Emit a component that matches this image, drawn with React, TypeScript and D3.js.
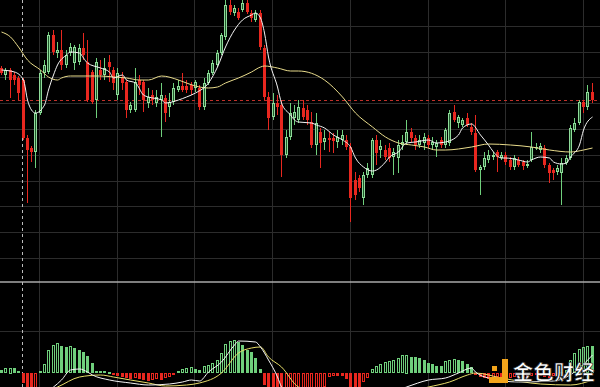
import React from 'react';
import * as d3 from 'd3';

const W = 600;
const H = 387;
const MAIN_BOTTOM = 282;

// open, high, low, close for each bar
const candles: [number, number, number, number][] = [
  [232, 234, 225, 227], [225, 232, 220, 230], [230, 232, 202, 220], [225, 228, 215, 220],
  [222, 224, 200, 207], [220, 222, 160, 162], [162, 165, 97, 150], [152, 154, 138, 148],
  [148, 190, 132, 187], [187, 230, 185, 227], [227, 240, 222, 235], [228, 268, 226, 265],
  [265, 270, 245, 248], [247, 258, 242, 250], [250, 270, 230, 235], [235, 250, 232, 245],
  [247, 257, 244, 253], [237, 255, 230, 253], [238, 256, 235, 252], [252, 267, 240, 245],
  [238, 260, 198, 200], [228, 230, 196, 198], [200, 242, 182, 238], [230, 240, 220, 225],
  [225, 242, 220, 232], [238, 245, 218, 233], [230, 233, 210, 217], [205, 232, 200, 227],
  [223, 228, 210, 217], [218, 220, 182, 190], [190, 198, 187, 195], [190, 232, 188, 218],
  [220, 225, 205, 215], [218, 220, 188, 200], [197, 212, 192, 203], [205, 210, 195, 200],
  [197, 210, 193, 203], [200, 217, 163, 205], [202, 205, 178, 187], [193, 207, 183, 198],
  [198, 217, 195, 212], [210, 220, 208, 214], [214, 227, 208, 210], [214, 220, 207, 210],
  [215, 218, 205, 210], [212, 220, 208, 218], [212, 215, 190, 193], [193, 222, 190, 217],
  [217, 230, 215, 227], [227, 240, 225, 237], [235, 250, 233, 247], [247, 267, 245, 265],
  [263, 300, 260, 295], [295, 300, 285, 288], [287, 295, 284, 292], [288, 292, 280, 282],
  [290, 300, 288, 297], [297, 300, 286, 288], [287, 290, 278, 282], [280, 290, 278, 287],
  [287, 290, 250, 253], [252, 255, 200, 203], [203, 208, 170, 182], [183, 207, 180, 197],
  [197, 205, 185, 193], [195, 200, 123, 145], [145, 170, 142, 163], [163, 197, 160, 187],
  [182, 195, 175, 188], [180, 200, 177, 193], [192, 200, 180, 183], [190, 195, 175, 180],
  [178, 188, 152, 155], [155, 187, 145, 177], [168, 172, 132, 157], [158, 170, 150, 162],
  [162, 168, 148, 160], [162, 167, 147, 159], [158, 170, 152, 163], [160, 170, 155, 165],
  [160, 165, 150, 153], [153, 157, 78, 102], [120, 128, 100, 105], [122, 125, 108, 112],
  [102, 128, 95, 125], [125, 137, 122, 132], [125, 162, 122, 160], [160, 165, 135, 147],
  [150, 160, 142, 154], [150, 155, 140, 143], [152, 157, 138, 142], [143, 152, 125, 148],
  [142, 160, 127, 155], [155, 165, 150, 158], [158, 180, 155, 168], [168, 172, 158, 162],
  [162, 165, 150, 155], [155, 165, 152, 160], [157, 167, 150, 163], [162, 165, 152, 155],
  [155, 163, 150, 158], [153, 160, 143, 157], [160, 163, 152, 155], [155, 172, 152, 170],
  [157, 190, 154, 187], [188, 195, 178, 180], [177, 185, 172, 183], [175, 182, 173, 180],
  [182, 187, 173, 175], [173, 177, 165, 168], [167, 185, 128, 130], [130, 135, 105, 133],
  [133, 148, 130, 142], [140, 150, 137, 145], [143, 148, 140, 145], [148, 150, 128, 143],
  [142, 148, 140, 145], [145, 148, 135, 138], [140, 143, 130, 133], [133, 145, 130, 142],
  [140, 143, 133, 135], [138, 140, 130, 134], [134, 140, 132, 136], [140, 168, 138, 153],
  [152, 157, 150, 153], [150, 157, 147, 154], [152, 155, 132, 135], [135, 137, 117, 127],
  [130, 132, 120, 127], [128, 135, 125, 132], [127, 142, 95, 137], [137, 145, 135, 142],
  [142, 175, 140, 172], [170, 182, 168, 177], [177, 200, 175, 198], [198, 200, 187, 193],
  [193, 215, 190, 208], [208, 217, 197, 200],
];

// MACD histogram, one per bar
const macdHist: number[] = [
  3, 5, 5.5, 5, 2, -10, -18, -20, -16, 2, 9, 23, 28, 30, 27, 26, 27, 25, 23, 21,
  17, 10, 2, 2.3, 2, 1.5, -2, -3, -4, -5, -6, -5, -6, -7, -8, -7, -6, -7, -5, -4,
  -2, 2, 4, 5, 6, 4, 3, 7, 8, 10, 13, 20, 29, 32, 33, 31, 28, 23, 21, 15,
  4, -12, -20, -25, -28, -30, -29, -27, -25, -23, -21, -19, -17, -16, -15, -14, -4, -3, -3, -3,
  -6, -14, -17, -19, -9, -5, 4, 6.7, 9, 10.7, 11.7, 13.3, 15, 18.3, 18.5, 16, 15.7, 15, 12.7, 10,
  9, 7.3, 6.7, 11.7, 13.3, 14, 13.3, 11.7, 9, 6, -2, -4, -5, -6, -5, -4, -5, -6, -5, -4,
  -5, -6, -5, -3, -2, -3, -4, -5, -3, -1, 1, 3, 13, 20, 24, 26, 27, 27,
];

// moving averages read at [bar, price]
const maFast: [number, number][] = [
  [0, 230], [3, 228], [5, 220], [6, 200], [7, 190], [8, 187], [10, 195], [11, 210], [12, 225],
  [13, 235], [15, 245], [16, 248], [18, 247], [19, 242], [20, 237], [23, 232], [25, 228],
  [26, 222], [28, 225], [29, 220], [31, 217], [33, 205], [34, 203], [37, 200], [38, 197],
  [41, 200], [43, 203], [45, 207], [48, 217], [50, 233], [52, 253], [54, 270], [56, 280],
  [58, 285], [59, 287], [60, 282], [61, 267], [62, 243], [64, 213], [65, 197], [67, 185],
  [68, 180], [69, 178], [72, 177], [73, 175], [75, 172], [77, 165], [79, 160], [81, 153],
  [82, 142], [84, 133], [86, 129], [87, 130], [89, 138], [90, 143], [92, 148], [94, 157],
  [96, 158], [99, 160], [101, 157], [103, 158], [106, 165], [107, 172], [109, 176], [111, 165],
  [113, 155], [114, 148], [116, 142], [117, 142], [120, 140], [122, 138], [123, 140], [125, 143],
  [127, 142], [128, 138], [130, 136], [131, 137], [132, 143], [134, 155], [135, 170], [137, 183],
];

const maSlow: [number, number][] = [
  [0, 268], [2, 263], [4, 253], [6, 240], [9, 230], [11, 223], [13, 220], [14, 222], [16, 224],
  [20, 224], [23, 224], [26, 223], [29, 222], [32, 220], [34, 220], [37, 224], [41, 220],
  [43, 217], [45, 214], [48, 212], [50, 213], [52, 217], [55, 222], [58, 228], [60, 233],
  [61, 234], [64, 232], [67, 229], [69, 229], [75, 220], [79, 203], [82, 187], [86, 173],
  [89, 163], [92, 157], [95, 155], [98, 153], [101, 150], [103, 150], [109, 153], [113, 156],
  [118, 155], [123, 153], [127, 150], [132, 148], [135, 150], [137, 152],
];

const dif: [number, number][] = [
  [0, -25], [10, -20], [12, -14], [14, -7], [16, 3], [18, 4], [20, 1], [21, -2], [25, -7],
  [30, -10], [34, -12], [39, -11], [42, -9], [44, -7], [46, -8], [48, 1], [51, 11], [54, 28],
  [55, 32], [59, 31], [60, 26], [62, 13], [64, -4], [65, -14], [69, -30], [81, -35], [94, -14],
  [99, -7], [103, -5], [106, 0], [109, 5], [110, 1], [113, -5], [120, -9], [128, -8], [133, 1],
  [137, 18],
];

const dea: [number, number][] = [
  [0, -30], [13, -14], [18, -4], [23, -2], [26, -4], [30, -7], [34, -10], [38, -13], [43, -12],
  [46, -10], [51, 0], [55, 20], [58, 25], [60, 26], [62, 16], [65, 6], [69, -14], [81, -28],
  [99, -14], [104, -9], [108, -2], [110, 0], [116, -5], [125, -11], [132, -12], [137, -7],
];

const RED = '#e8271f';
const GREEN = '#6fcf7c';

export default function App() {
  const x = d3.scaleBand<number>().domain(d3.range(139)).range([0, 598]).paddingInner(0.3);
  const left = (i: number) => Math.round(x(i) as number);
  const mid = (i: number) => left(i) + 1.5;

  const yP = d3.scaleLinear().domain([18, 300]).range([MAIN_BOTTOM, 0]);
  const yM = d3.scaleLinear().domain([-14, 91]).range([H, MAIN_BOTTOM]);

  const lineP = d3.line<[number, number]>().x((d) => mid(d[0])).y((d) => yP(d[1])).curve(d3.curveMonotoneX);
  const lineM = d3.line<[number, number]>().x((d) => mid(d[0])).y((d) => yM(d[1])).curve(d3.curveMonotoneX);

  const lastClose = candles[candles.length - 1][3];
  const vGrid = d3.range(8).map((k) => Math.round(39 + k * 77.7) + 0.5);
  const hGrid = d3.range(1, 11).map((k) => Math.round(k * 25.8) + 0.5);

  return (
    <svg width={W} height={H} style={{ position: 'fixed', left: 0, top: 0, background: '#000' }}>
      <defs>
        <clipPath id="main"><rect x={0} y={0} width={W} height={MAIN_BOTTOM} /></clipPath>
        <clipPath id="sub"><rect x={0} y={MAIN_BOTTOM + 1} width={W} height={H - MAIN_BOTTOM} /></clipPath>
      </defs>
      <rect width={W} height={H} fill="#000" />

      {/* grid */}
      {vGrid.map((gx) => (
        <line key={'v' + gx} x1={gx} x2={gx} y1={0} y2={H} stroke="#2c2c2c" />
      ))}
      {hGrid.map((gy) => (
        <line key={'h' + gy} x1={0} x2={W} y1={gy} y2={gy} stroke="#2c2c2c" />
      ))}
      <line x1={0} x2={W} y1={331.5} y2={331.5} stroke="#2c2c2c" />
      <line x1={0} x2={W} y1={282} y2={282} stroke="#a8a8a8" strokeWidth={1.5} />

      {/* cursor line */}
      <line x1={22.5} x2={22.5} y1={0} y2={H} stroke="#bbb" strokeDasharray="3,3" />

      {/* last price */}
      <line x1={0} x2={W} y1={Math.round(yP(lastClose)) + 0.5} y2={Math.round(yP(lastClose)) + 0.5}
        stroke="#c0302a" strokeDasharray="3,3" />

      <g clipPath="url(#main)">
        {candles.map(([o, h, l, c], i) => {
          const up = c >= o;
          const top = Math.round(yP(Math.max(o, c)));
          const bot = Math.round(yP(Math.min(o, c)));
          const bh = Math.max(1, bot - top);
          return (
            <g key={i}>
              <line x1={mid(i)} x2={mid(i)} y1={yP(h)} y2={yP(l)} stroke={up ? GREEN : RED} />
              {up ? (
                <rect x={left(i) + 0.5} y={top + 0.5} width={2} height={Math.max(0.5, bh - 1)}
                  fill="#1f5a2a" stroke="#8fdb9a" />
              ) : (
                <rect x={left(i)} y={top} width={3} height={bh} fill={RED} />
              )}
            </g>
          );
        })}
        <path d={lineP(maSlow) || ''} fill="none" stroke="#e9dc8c" strokeWidth={1} />
        <path d={lineP(maFast) || ''} fill="none" stroke="#f4f4f4" strokeWidth={1} />
      </g>

      <g clipPath="url(#sub)">
        {macdHist.map((v, i) => {
          const prev = i > 0 ? macdHist[i - 1] : v;
          const hollow = v > prev;
          const col = v >= 0 ? GREEN : RED;
          const y0 = yM(0);
          const y1 = yM(v);
          const top = Math.round(Math.min(y0, y1));
          const hh = Math.max(1, Math.round(Math.abs(y1 - y0)));
          return hollow ? (
            <rect key={i} x={left(i) + 0.5} y={top + 0.5} width={2} height={Math.max(0.5, hh - 1)}
              fill="none" stroke={col} />
          ) : (
            <rect key={i} x={left(i)} y={top} width={3} height={hh} fill={col} />
          );
        })}
        <path d={lineM(dea) || ''} fill="none" stroke="#e6dc6a" strokeWidth={1} />
        <path d={lineM(dif) || ''} fill="none" stroke="#f4f4f4" strokeWidth={1} />
      </g>

      {/* watermark */}
      <g>
        <path d="M502,359 h6 v24 h-19 v-6 h13 z" fill="#f3a51b" />
        <rect x={492} y={366} width={5} height={5} fill="#f3a51b" />
        <text x={513} y={380} fill="#fff" stroke="#222" strokeWidth={0.6} fontSize={20}
          fontWeight="bold" fontFamily="'Noto Sans CJK SC', sans-serif" letterSpacing={0.5}>
          金色财经
        </text>
      </g>
    </svg>
  );
}
